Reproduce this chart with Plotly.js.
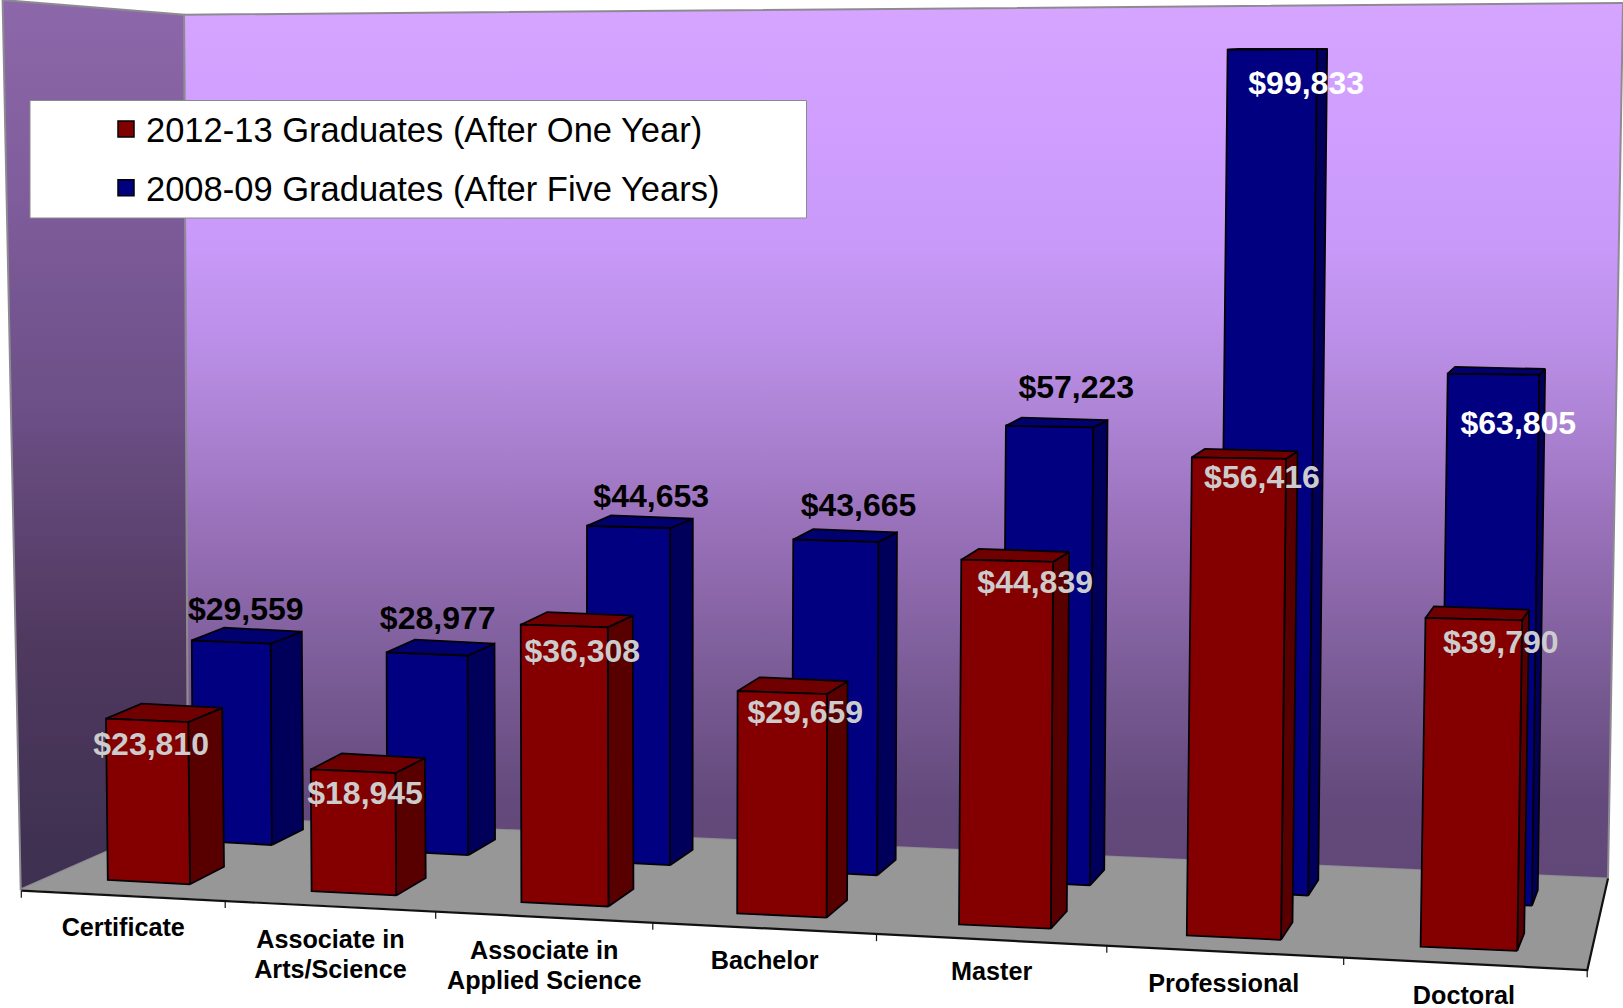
<!DOCTYPE html>
<html><head><meta charset="utf-8">
<script src="https://cdn.plot.ly/plotly-3.0.1.min.js"></script>
<style>html,body{margin:0;padding:0;background:#fff;overflow:hidden}#chart{width:1623px;height:1008px}</style>
</head><body><div id="chart"></div>
<script>
// ---------- data ----------
const categories = ["Certificate","Associate in<br>Arts/Science","Associate in<br>Applied Science","Bachelor","Master","Professional","Doctoral"];
const earnings2012 = [23810,18945,36308,29659,44839,56416,39790];
const earnings2008 = [29559,28977,44653,43665,57223,99833,63805];
const seriesNames = ["2012-13 Graduates (After One Year)","2008-09 Graduates (After Five Years)"];

// ---------- oblique 3-D scale: category index + dollars -> axis position ----------
const rowFront = {   // nearer row of bars
  rightX:i=>190+203.2*i+3*i*i, baseY:i=>884.3+11.1*i, width:i=>82.2+2.4*i,
  scale:i=>0.00862*(1+0.017*i), zero:4985,
  lean:i=>-0.011+0.0043*i, depthX:i=>34-4.5*i, depthY0:-17.5, depthYk:0.021, backExtra:1.5 };
const rowBack = {    // farther row of bars
  rightX:i=>272+193.5*i+2.75*i*i, baseY:i=>845+10.1*i, width:i=>79+2.1*i,
  scale:i=>0.00834*(1+0.015*i), zero:5400,
  lean:i=>-0.006+0.0033*i, depthX:i=>31-4.2*i, depthY0:-15.5, depthYk:0.0185, backExtra:1.5 };

function corners(row,i,v){
  const h=row.scale(i)*(v-row.zero), w=row.width(i), rx=row.rightX(i), by=row.baseY(i);
  const tilt=h0=>4.3-0.006*h0, ln=row.lean(i)*h;
  const dx=row.depthX(i), dy0=row.depthY0, dyT=row.depthY0+row.depthYk*h;
  return {
    frBot:[rx,by], flBot:[rx-w,by-4.3],
    frTop:[rx+ln,by-h], flTop:[rx+ln-w,by-h-tilt(h)],
    brTop:[rx+ln+dx,by-h+dyT], blTop:[rx+ln-w+dx+row.backExtra,by-h-tilt(h)+dyT-1],
    brBot:[rx+dx,by+dy0] };
}
function polyTrace(row,vals,keys,fill,name){
  const x=[],y=[];
  vals.forEach((v,i)=>{const c=corners(row,i,v);
    keys.forEach(k=>{x.push(c[k][0]);y.push(c[k][1]);});
    x.push(c[keys[0]][0]);y.push(c[keys[0]][1]);x.push(null);y.push(null);});
  return {type:'scatter',mode:'lines',x,y,fill:'toself',fillcolor:fill,name,showlegend:false,hoverinfo:'skip',
          line:{color:'#050008',width:1.8}};
}

// ---------- room (walls and floor) ----------
const W=1623,H=1008;
const tickX=i=>21.3+200.6*i+3.3*i*i;
const floorY=x=>890.7+0.0508*(x-21.3);
function wall(xs,ys,stops){
  return {type:'scatter',mode:'lines',x:xs,y:ys,fill:'toself',showlegend:false,hoverinfo:'skip',
    line:{color:'#8e8a92',width:2},
    fillgradient:{type:'vertical',start:0,stop:H,colorscale:stops.map(s=>[s[0]/H,s[1]])}};
}
const backStops=[[0,'#d6a5ff'],[120,'#d09fff'],[250,'#c899f8'],[340,'#bb8fe8'],[430,'#ab82d2'],[520,'#9a72bb'],[610,'#8865a6'],[700,'#755890'],[800,'#644a7c'],[1008,'#5a4470']];
const sideStops=[[0,'#8c68aa'],[200,'#7f5c9b'],[400,'#6d5088'],[640,'#50395f'],[850,'#3f3152'],[1008,'#3a2e4c']];
const backWall=wall([184,1623,1608,188,184],[14.7,3,878.5,816,14.7],backStops);
const sideWall=wall([2.6,184,188,20.7,2.6],[0,14.7,816,889.3,0],sideStops);
const floor={type:'scatter',mode:'lines',x:[20.7,188,1608,1587.3,20.7],y:[889.8,816,878.5,970,889.8],
  fill:'toself',fillcolor:'#979797',line:{color:'rgba(0,0,0,0)',width:0},showlegend:false,hoverinfo:'skip'};
const axisX=[21.3,1587.3,1608],axisY=[floorY(21.3),970,878.5];
const axisLine={type:'scatter',mode:'lines',x:axisX,y:axisY,line:{color:'#111',width:2.2},showlegend:false,hoverinfo:'skip'};
const tx=[],ty=[];for(let i=0;i<=7;i++){const x=tickX(i);tx.push(x,x,null);ty.push(floorY(x),floorY(x)+7,null);}
const ticks={type:'scatter',mode:'lines',x:tx,y:ty,line:{color:'#111',width:1.2},showlegend:false,hoverinfo:'skip'};

// ---------- labels ----------
const fmt=v=>'$'+v.toLocaleString('en-US');
const frontLabelShift=[[4,28],[12,27],[18,29],[23,24],[28,25],[23,23],[27,27]];
const backLabelShift=[[-25,-32],[-30,-35],[-19,-29],[-20,-34],[-17,-37],[-11,37],[-21,51]];
const frontLabels={type:'scatter',mode:'text',showlegend:false,hoverinfo:'skip',cliponaxis:false,
  x:earnings2012.map((v,i)=>{const c=corners(rowFront,i,v);return (c.flTop[0]+c.frTop[0])/2+frontLabelShift[i][0];}),
  y:earnings2012.map((v,i)=>corners(rowFront,i,v).flTop[1]+frontLabelShift[i][1]),
  text:earnings2012.map(fmt),textposition:'middle center',
  textfont:{family:'Liberation Sans, Arial, sans-serif',size:32,weight:700,color:'#cccccc'}};
const backLabels={type:'scatter',mode:'text',showlegend:false,hoverinfo:'skip',cliponaxis:false,
  x:earnings2008.map((v,i)=>corners(rowBack,i,v).frTop[0]+backLabelShift[i][0]),
  y:earnings2008.map((v,i)=>corners(rowBack,i,v).frTop[1]+backLabelShift[i][1]),
  text:earnings2008.map(fmt),textposition:'middle center',
  textfont:{family:'Liberation Sans, Arial, sans-serif',size:32,weight:700,
            color:earnings2008.map((v,i)=>i>=5?'#ffffff':'#000000')}};
// one text point per printed line, so the line spacing can follow the picture
const catX=[],catY=[],catText=[];
categories.forEach((c,i)=>{
  const m=(tickX(i)+tickX(i+1))/2, lines=c.split('<br>');
  lines.forEach((t,k)=>{catX.push(m-(i>=5?1.5:0));catText.push(t);
    catY.push(floorY(m)+(lines.length>1?35+30*k:34));});
});
const catLabels={type:'scatter',mode:'text',showlegend:false,hoverinfo:'skip',cliponaxis:false,
  x:catX,y:catY,text:catText,textposition:'middle center',
  textfont:{family:'Liberation Sans, Arial, sans-serif',size:25.2,weight:700,color:'#000'}};

// ---------- legend swatches ----------
function swatch(name,color,group){
  return {type:'scatter',mode:'markers',x:[null],y:[null],name,legendgroup:group,
    marker:{symbol:'square',size:20,color,line:{color:'#000',width:1.5}}};
}

const traces=[
  backWall,sideWall,floor,axisLine,ticks,
  polyTrace(rowBack,earnings2008,['frBot','frTop','flTop','flBot'],'#000080',seriesNames[1]),
  polyTrace(rowBack,earnings2008,['frBot','frTop','brTop','brBot'],'#00005a',seriesNames[1]+' side'),
  polyTrace(rowBack,earnings2008,['flTop','frTop','brTop','blTop'],'#00006e',seriesNames[1]+' top'),
  polyTrace(rowFront,earnings2012,['frBot','frTop','brTop','brBot'],'#580000',seriesNames[0]+' side'),
  polyTrace(rowFront,earnings2012,['flTop','frTop','brTop','blTop'],'#700000',seriesNames[0]+' top'),
  polyTrace(rowFront,earnings2012,['frBot','frTop','flTop','flBot'],'#840000',seriesNames[0]),
  frontLabels,backLabels,catLabels,
  swatch(seriesNames[0],'#800000','a'),swatch(seriesNames[1],'#000080','b')
];

const layout={
  width:W,height:H,margin:{l:0,r:0,t:0,b:0,pad:0},paper_bgcolor:'#fff',plot_bgcolor:'#fff',
  xaxis:{range:[0,W],visible:false,fixedrange:true},
  yaxis:{range:[H,0],visible:false,fixedrange:true},
  showlegend:true,
  legend:{x:106/W,y:1-100/H,xanchor:'left',yanchor:'top',bgcolor:'rgba(0,0,0,0)',borderwidth:0,
          traceorder:'grouped',tracegroupgap:11,
          font:{family:'Liberation Sans, Arial, sans-serif',size:34.5,color:'#000'}},
  shapes:[{type:'rect',xref:'x',yref:'y',x0:30,x1:806.5,y0:100.5,y1:218,fillcolor:'#fff',
           line:{color:'#8a8a8a',width:1},layer:'above'}]
};
Plotly.newPlot('chart',traces,layout,{displayModeBar:false,staticPlot:true});
</script></body></html>
